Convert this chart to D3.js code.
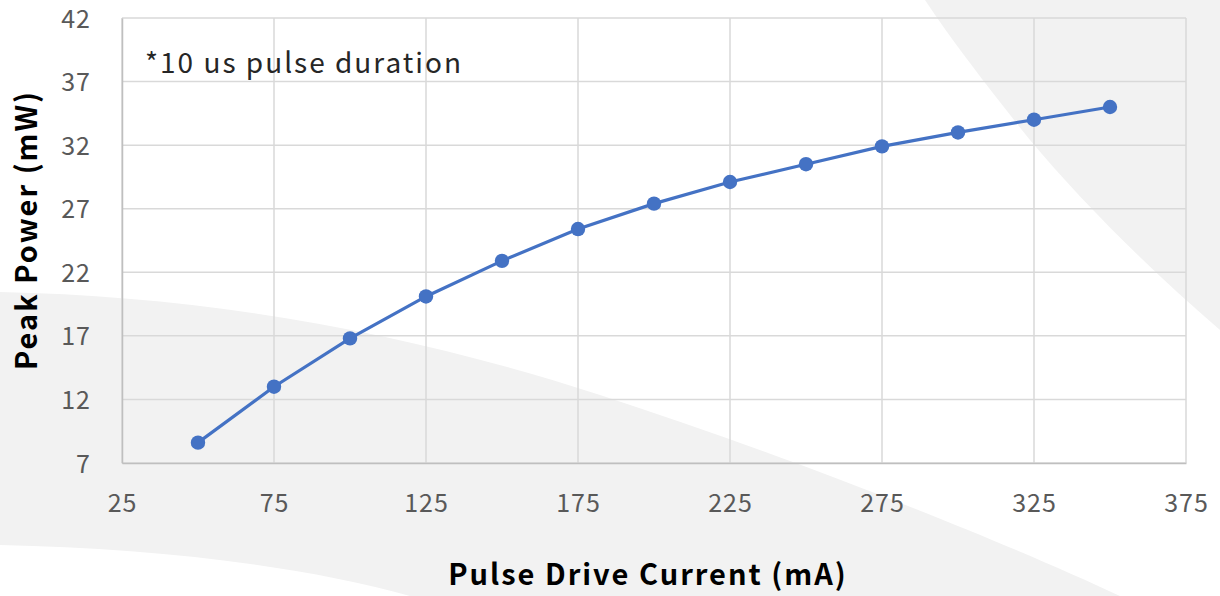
<!DOCTYPE html>
<html lang="en">
<head>
<meta charset="UTF-8">
<script src="https://cdnjs.cloudflare.com/ajax/libs/d3/7.8.5/d3.min.js"></script>
<style>
  html, body { margin: 0; padding: 0; background: #fff; }
  svg { display: block; font-family: "Noto Sans CJK JP", "Noto Sans", sans-serif; }
</style>
</head>
<body>
<div id="chart"></div>
<script>
// data
var currents = [50, 75, 100, 125, 150, 175, 200, 225, 250, 275, 300, 325, 350];
var peakPower = [8.6, 13.0, 16.8, 20.1, 22.9, 25.4, 27.4, 29.1, 30.5, 31.9, 33.0, 34.0, 35.0];
var xTicks = [25, 75, 125, 175, 225, 275, 325, 375];
var yTicks = [7, 12, 17, 22, 27, 32, 37, 42];

var W = 1220, H = 596;
var margin = {top: 18, right: 34, bottom: 133, left: 122};

var svg = d3.select("#chart").append("svg")
  .attr("width", W).attr("height", H);

// grey background swooshes
svg.append("path")
  .attr("d", "M925,0 L1220,0 L1220,330 C1150,270 1080,200 1030,140 C990,90 955,45 925,0 Z")
  .attr("fill", "#f2f2f2");
svg.append("path")
  .attr("d", "M0,292 C200,296 400,330 600,395 C800,460 1000,540 1120,596 L410,596 C300,565 150,548 0,545 Z")
  .attr("fill", "#f2f2f2");

var x = d3.scaleLinear().domain([25, 375]).range([margin.left, W - margin.right]);
var y = d3.scaleLinear().domain([7, 42]).range([H - margin.bottom, margin.top]);

// gridlines
svg.append("g").selectAll("line.h").data(yTicks).enter().append("line")
  .attr("x1", x(25)).attr("x2", x(375))
  .attr("y1", d => y(d)).attr("y2", d => y(d))
  .attr("stroke", "#d9d9d9").attr("stroke-width", 1.5);
svg.append("g").selectAll("line.v").data(xTicks).enter().append("line")
  .attr("x1", d => x(d)).attr("x2", d => x(d))
  .attr("y1", y(7)).attr("y2", y(42))
  .attr("stroke", "#d9d9d9").attr("stroke-width", 1.5);

// axes (no tick marks, only labels)
var xAxis = svg.append("g")
  .attr("transform", "translate(0," + y(7) + ")")
  .call(d3.axisBottom(x).tickValues(xTicks).tickSize(0).tickPadding(31));
xAxis.select(".domain").attr("stroke", "#bfbfbf").attr("stroke-width", 1.5);

var yAxis = svg.append("g")
  .attr("transform", "translate(" + x(25) + ",0)")
  .call(d3.axisLeft(y).tickValues(yTicks).tickSize(0).tickPadding(31));
yAxis.select(".domain").attr("stroke", "#bfbfbf").attr("stroke-width", 1.5);

svg.selectAll(".tick text")
  .attr("fill", "#595959")
  .style("font-size", "25px")
  .style("letter-spacing", "1px")
  .style("font-family", "'Noto Sans CJK JP', sans-serif");
yAxis.selectAll(".tick text").attr("dy", "0.36em");

// series
var line = d3.line()
  .x((d, i) => x(currents[i]))
  .y(d => y(d));

svg.append("path")
  .datum(peakPower)
  .attr("d", line)
  .attr("fill", "none")
  .attr("stroke", "#4472c4")
  .attr("stroke-width", 3.2);

svg.append("g").selectAll("circle").data(peakPower).enter().append("circle")
  .attr("cx", (d, i) => x(currents[i]))
  .attr("cy", d => y(d))
  .attr("r", 7.2)
  .attr("fill", "#4472c4");

// annotation
svg.append("text")
  .attr("x", 145).attr("y", 73)
  .attr("fill", "#262626")
  .style("font-size", "28px")
  .style("letter-spacing", "2px")
  .text("*10 us pulse duration");

// axis titles
svg.append("text")
  .attr("x", 648).attr("y", 585)
  .attr("text-anchor", "middle")
  .attr("fill", "#000")
  .style("font-size", "29px").style("font-weight", "bold")
  .style("letter-spacing", "2px")
  .text("Pulse Drive Current (mA)");

svg.append("text")
  .attr("transform", "translate(37,230) rotate(-90)")
  .attr("text-anchor", "middle")
  .attr("fill", "#000")
  .style("font-size", "29px").style("font-weight", "bold")
  .style("letter-spacing", "2px")
  .text("Peak Power (mW)");
</script>
</body>
</html>
